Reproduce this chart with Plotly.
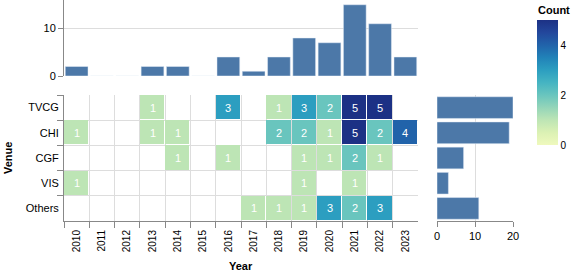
import plotly.graph_objects as go

years = [str(y) for y in range(2010, 2024)]
venues = ["TVCG", "CHI", "CGF", "VIS", "Others"]

# counts per venue per year (0 = no paper)
tvcg = [0, 0, 0, 1, 0, 0, 3, 0, 1, 3, 2, 5, 5, 0]
chi = [1, 0, 0, 1, 1, 0, 0, 0, 2, 2, 1, 5, 2, 4]
cgf = [0, 0, 0, 0, 1, 0, 1, 0, 0, 1, 1, 2, 1, 0]
vis = [1, 0, 0, 0, 0, 0, 0, 0, 0, 1, 0, 1, 0, 0]
others = [0, 0, 0, 0, 0, 0, 0, 1, 1, 1, 3, 2, 3, 0]

rows = [tvcg, chi, cgf, vis, others]
year_totals = [sum(col) for col in zip(*rows)]
venue_totals = [sum(r) for r in rows]

W, H = 578, 274
def px(x):
    return x / W
def py(y):
    return (H - y) / H

FONT = "Liberation Sans, Arial, Helvetica, sans-serif"
BAR = "#4c78a8"
GRID = "#dddddd"
AXIS = "#888888"

ygb = ["#eff9bd", "#dbf1b4", "#bde5b5", "#94d5b9", "#69c5be", "#45b4c2",
       "#2c9ec0", "#2182b8", "#2163aa", "#23479c", "#1c3185"]
colorscale = [[i / (len(ygb) - 1), c] for i, c in enumerate(ygb)]

z = [[v if v > 0 else None for v in r] for r in rows]
txt = [[str(v) if v > 0 else "" for v in r] for r in rows]

fig = go.Figure()

# top bar chart: papers per year
fig.add_trace(go.Bar(x=years, y=year_totals, marker_color=BAR, width=0.9,
                     xaxis="x", yaxis="y", showlegend=False, hoverinfo="x+y"))

# heatmap
fig.add_trace(go.Heatmap(
    x=years, y=venues, z=z, text=txt, texttemplate="%{text}",
    textfont=dict(color="white", size=11, family=FONT),
    colorscale=colorscale, zmin=0, zmax=5, xgap=1, ygap=1,
    xaxis="x2", yaxis="y2",
    colorbar=dict(x=px(537), xanchor="left", y=py(20), yanchor="top",
                  lenmode="pixels", len=125, thickness=21, xpad=0, ypad=0,
                  outlinewidth=0, tickvals=[0, 2, 4], ticks="",
                  tickfont=dict(size=10, family=FONT, color="#000")),
))

# right bar chart: papers per venue
fig.add_trace(go.Bar(x=venue_totals, y=venues, orientation="h", marker_color=BAR,
                     width=0.86, xaxis="x3", yaxis="y3", showlegend=False))

hx = [px(64), px(418)]
hy = [py(221), py(95)]

fig.update_layout(
    width=W, height=H, margin=dict(l=0, r=0, t=0, b=0, autoexpand=False),
    paper_bgcolor="white", plot_bgcolor="white",
    font=dict(family=FONT, size=10, color="#000"),
    xaxis=dict(domain=hx, anchor="y", type="category", categoryarray=years,
               showticklabels=False, showgrid=False, showline=False, ticks="",
               zeroline=False),
    yaxis=dict(domain=[py(76), 1], anchor="x", range=[0, 16], tickvals=[0, 10],
               showgrid=True, gridcolor=GRID, showline=True, linecolor=AXIS,
               ticks="outside", ticklen=5, tickcolor=AXIS, zeroline=False,
               tickfont=dict(size=11)),
    xaxis2=dict(domain=hx, anchor="y2", type="category", categoryarray=years,
                tickson="boundaries", ticks="outside", ticklen=6, tickcolor=AXIS,
                showgrid=True, gridcolor=GRID, showline=True, linecolor=AXIS,
                tickangle=-90, zeroline=False, tickfont=dict(size=10),
                ticklabelstandoff=4),
    yaxis2=dict(domain=hy, anchor="x2", type="category", categoryarray=venues,
                autorange="reversed", tickson="boundaries", ticks="outside",
                ticklen=6, tickcolor=AXIS, showgrid=True, gridcolor=GRID,
                showline=True, linecolor=AXIS, zeroline=False,
                tickfont=dict(size=11), ticklabelstandoff=2),
    xaxis3=dict(domain=[px(437), px(513)], anchor="y3", range=[0, 20],
                tickvals=[0, 10, 20], showgrid=True, gridcolor=GRID,
                showline=True, linecolor=AXIS, ticks="outside", ticklen=5,
                tickcolor=AXIS, zeroline=False, tickfont=dict(size=11)),
    yaxis3=dict(domain=hy, anchor="x3", type="category", categoryarray=venues,
                autorange="reversed", showticklabels=False, showgrid=False,
                showline=False, ticks="", zeroline=False),
    annotations=[
        dict(text="<b>Count</b>", x=px(536), y=py(10), xref="paper", yref="paper",
             xanchor="left", yanchor="middle", showarrow=False,
             font=dict(size=11, family=FONT)),
        dict(text="<b>Year</b>", x=px(241), y=py(266), xref="paper", yref="paper",
             xanchor="center", yanchor="middle", showarrow=False,
             font=dict(size=11, family=FONT)),
        dict(text="<b>Venue</b>", x=px(8), y=py(158), xref="paper", yref="paper",
             xanchor="center", yanchor="middle", showarrow=False, textangle=-90,
             font=dict(size=11, family=FONT)),
    ],
)

fig.write_html("out.html", config={"displayModeBar": False},
               post_script="document.body.style.margin='0';document.body.style.overflow='hidden';")
